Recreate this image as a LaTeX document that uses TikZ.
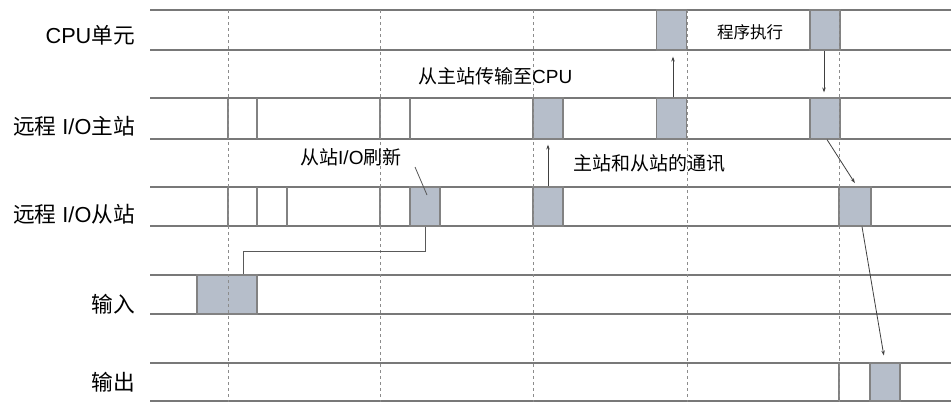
\documentclass[tikz,border=0pt]{standalone}
\usepackage{fontspec}
\setmainfont{Liberation Sans}
\newfontfamily\cjk{Noto Sans CJK SC}
\usetikzlibrary{arrows.meta}
\definecolor{rowline}{RGB}{120,120,120}
\definecolor{boxfill}{RGB}{182,190,202}
\definecolor{boxedge}{RGB}{130,130,130}
\definecolor{dashcol}{RGB}{140,140,140}
\begin{document}
\begin{tikzpicture}[x=1pt,y=-1pt,
  rowln/.style={draw=rowline,line width=1.7pt},
  tick/.style={draw=boxedge,line width=1.2pt},
  dashln/.style={draw=dashcol,line width=1pt,dash pattern=on 3pt off 3pt},
  slot/.style={draw=boxedge,line width=1.2pt,fill=boxfill,inner sep=0pt,minimum width=30pt},
  lbl/.style={inner sep=0pt,font=\fontsize{21.7}{24}\selectfont,anchor=east},
  note/.style={inner sep=0pt,font=\fontsize{19}{22}\selectfont,anchor=west},
  arr/.style={draw=black!75,line width=0.8pt,-{Stealth[length=5pt,width=3.5pt]}},
  plain/.style={draw=black!65,line width=0.8pt}
]
\useasboundingbox (0,0) rectangle (951,402);
% row lines
\foreach \y in {10,50,98,139,187,226,275,314,363,401}
  \draw[rowln] (150,\y) -- (951,\y);
% boxes
\node[slot,minimum height=40pt] (c1) at (671.5,30) {};
\node[slot,minimum height=40pt] (c2) at (825,30) {};
\node[slot,minimum height=41pt] (m1) at (548,118.5) {};
\node[slot,minimum height=41pt] (m2) at (671.5,118.5) {};
\node[slot,minimum height=41pt] (m3) at (825,118.5) {};
\node[slot,minimum height=39pt] (s1) at (425,206.5) {};
\node[slot,minimum height=39pt] (s2) at (548,206.5) {};
\node[slot,minimum height=39pt,minimum width=32pt] (s3) at (855,206.5) {};
\node[slot,minimum height=39pt,minimum width=60pt] (i1) at (227,294.5) {};
\node[slot,minimum height=38pt] (o1) at (885,382) {};
% solid ticks
\foreach \x in {228,257,380,410}
  \draw[tick] (\x,98) -- (\x,139);
\foreach \x in {228,257,287,380}
  \draw[tick] (\x,187) -- (\x,226);
\draw[tick] (839,363) -- (839,401);
% dashed verticals
\foreach \x in {228,380,533,687,839}
  \draw[dashln] (\x,10) -- (\x,402);
% labels
\node[lbl] (lcpu) at (135,35) {CPU{\cjk 单元}};
\node[lbl] (lmas) at (135,126) {{\cjk 远程} I/O{\cjk 主站}};
\node[lbl] (lsla) at (135,214) {{\cjk 远程} I/O{\cjk 从站}};
\node[lbl] (lin) at (135,304) {{\cjk 输入}};
\node[lbl] (lout) at (135,382) {{\cjk 输出}};
\node[note] (tcpu) at (418,76) {{\cjk 从主站传输至}CPU};
\node[note,font=\fontsize{16.5}{19}\selectfont] (tprog) at (717,32) {{\cjk 程序执行}};
\node[note] (tref) at (300,157) {{\cjk 从站}I/O{\cjk 刷新}};
\node[note] (tcom) at (573,163) {{\cjk 主站和从站的通讯}};
% connectors
\draw[plain] ([xshift=16pt]i1.north) -- ++(0,-23) -| (s1.south);
\coordinate (pA) at (415,167);
\draw[plain] (pA) -- ([xshift=2pt,yshift=11.5pt]s1.center);
\draw[arr,shorten >=5pt] (s2.north) -- (m1.south);
\draw[arr,shorten >=6pt] ([xshift=1.5pt]m2.north) -- ([xshift=1.5pt]c1.south);
\draw[arr,shorten >=5pt] ([xshift=-1pt]c2.south) -- ([xshift=-1pt]m3.north);
\draw[arr,shorten >=4pt] ([xshift=2pt]m3.south) -- ([xshift=2pt]s3.north);
\draw[arr,shorten >=7pt] ([xshift=7pt]s3.south) -- (o1.north);
\end{tikzpicture}
\end{document}
